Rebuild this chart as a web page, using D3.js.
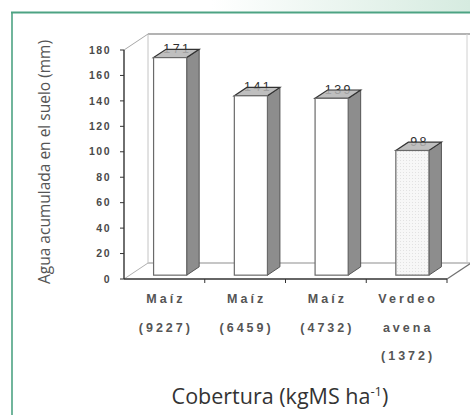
<!DOCTYPE html>
<html>
<head>
<meta charset="utf-8">
<script src="https://cdn.jsdelivr.net/npm/d3@7/dist/d3.min.js"></script>
<style>
  html, body { margin: 0; padding: 0; background: #fff; }
  svg { display: block; }
</style>
</head>
<body>
<svg id="chart" width="470" height="415"></svg>
<script>
// Soil water stored under each residue cover
const categories = ["c1", "c2", "c3", "c4"];
const labelLines = [
  ["Maíz", "(9227)"],
  ["Maíz", "(6459)"],
  ["Maíz", "(4732)"],
  ["Verdeo", "avena", "(1372)"]
];
const values = [171, 141, 139, 98];
const yTicks = [0, 20, 40, 60, 80, 100, 120, 140, 160, 180];

const svg = d3.select("#chart");

// page frame: faint green band on top, green rules
const defs = svg.append("defs");
const grad = defs.append("linearGradient").attr("id", "band")
  .attr("x1", "0%").attr("x2", "100%").attr("y1", "0%").attr("y2", "0%");
grad.append("stop").attr("offset", "45%").attr("stop-color", "#ffffff");
grad.append("stop").attr("offset", "100%").attr("stop-color", "#d6ebe0");
svg.append("rect").attr("x", 0).attr("y", 0).attr("width", 470).attr("height", 12)
  .attr("fill", "url(#band)");
svg.append("line").attr("x1", 11).attr("x2", 470).attr("y1", 12.5).attr("y2", 12.5)
  .attr("stroke", "#4da383").attr("stroke-width", 2);
svg.append("line").attr("x1", 12).attr("x2", 12).attr("y1", 12).attr("y2", 415)
  .attr("stroke", "#4da383").attr("stroke-width", 1.6);

// light texture for the last bar
const pat = defs.append("pattern").attr("id", "dots")
  .attr("width", 3).attr("height", 3).attr("patternUnits", "userSpaceOnUse");
pat.append("rect").attr("width", 3).attr("height", 3).attr("fill", "#f7f7f7");
pat.append("rect").attr("x", 1).attr("y", 1).attr("width", 1).attr("height", 1).attr("fill", "#e2e2e2");

// scales (front plane of the 3D box)
const x = d3.scaleBand().domain(categories).range([124, 447]).padding(0);
const y = d3.scaleLinear().domain([0, 180]).range([279, 50]);
const depth = { dx: 24, dy: -16 };     // full box depth
const f0 = 0.24, f1 = 0.76;            // bar depth span inside the box
const barFrac = 0.41;

const x0 = x.range()[0], x1 = x.range()[1];
const yTop = y(180), yBase = y(0);

const wall = svg.append("g");
// back wall
wall.append("line").attr("x1", x0 + depth.dx).attr("x2", 470)
  .attr("y1", yTop + depth.dy).attr("y2", yTop + depth.dy)
  .attr("stroke", "#9a9a9a").attr("stroke-width", 1.6);
wall.append("line").attr("x1", x1 + depth.dx - 4).attr("x2", x1 + depth.dx - 4)
  .attr("y1", yTop + depth.dy).attr("y2", yBase + depth.dy)
  .attr("stroke", "#d0d0d0").attr("stroke-width", 1);
wall.append("line").attr("x1", x0 + depth.dx).attr("x2", x0 + depth.dx)
  .attr("y1", yTop + depth.dy).attr("y2", yBase + depth.dy)
  .attr("stroke", "#c4c4c4").attr("stroke-width", 1);
// floor
wall.append("line").attr("x1", x0 + depth.dx).attr("x2", 470)
  .attr("y1", yBase + depth.dy).attr("y2", yBase + depth.dy)
  .attr("stroke", "#c6c6c6").attr("stroke-width", 2.2);
wall.append("line").attr("x1", x0).attr("x2", x0 + depth.dx)
  .attr("y1", yTop).attr("y2", yTop + depth.dy)
  .attr("stroke", "#a8a8a8").attr("stroke-width", 1);
wall.append("line").attr("x1", x0).attr("x2", x0 + depth.dx)
  .attr("y1", yBase).attr("y2", yBase + depth.dy)
  .attr("stroke", "#b0b0b0").attr("stroke-width", 1);
wall.append("line").attr("x1", x1).attr("x2", x1 + depth.dx)
  .attr("y1", yBase).attr("y2", yBase + depth.dy)
  .attr("stroke", "#707070").attr("stroke-width", 1.2);

// bars
const bars = svg.append("g").selectAll("g").data(values).join("g");
bars.each(function (v, i) {
  const g = d3.select(this);
  const w = x.bandwidth() * barFrac;
  const cx = x(categories[i]) + x.bandwidth() / 2;
  const ox = depth.dx * f0, oy = depth.dy * f0;
  const bx = depth.dx * (f1 - f0), by = depth.dy * (f1 - f0);
  const left = cx - w / 2 + ox, right = cx + w / 2 + ox;
  const top = y(v) + oy, bottom = y(0) + oy;
  // value label, partly covered by the bar top
  g.append("text")
    .attr("x", (left + right + bx) / 2 + 1).attr("y", top + by + 4)
    .attr("text-anchor", "middle")
    .attr("font-family", "Liberation Sans, Arial, sans-serif")
    .attr("font-size", 12.5).attr("letter-spacing", 2.5)
    .attr("fill", "#2e2e2e")
    .text(v);
  // side face
  g.append("path")
    .attr("d", `M${right},${top}L${right + bx},${top + by}L${right + bx},${bottom + by}L${right},${bottom}Z`)
    .attr("fill", "#8d8d8d").attr("stroke", "#555").attr("stroke-width", 1);
  // top face
  g.append("path")
    .attr("d", `M${left},${top}L${left + bx},${top + by}L${right + bx},${top + by}L${right},${top}Z`)
    .attr("fill", "#b4b4b4").attr("fill-opacity", 0.85).attr("stroke", "#333").attr("stroke-width", 1.2);
  // front face
  g.append("rect").attr("x", left).attr("y", top)
    .attr("width", w).attr("height", bottom - top)
    .attr("fill", i === 3 ? "url(#dots)" : "#ffffff")
    .attr("stroke", "#6a6a6a").attr("stroke-width", 1.2);
});

// y axis
const yAxis = svg.append("g");
yAxis.append("line").attr("x1", x0).attr("x2", x0).attr("y1", yTop).attr("y2", yBase)
  .attr("stroke", "#333").attr("stroke-width", 1.4);
yAxis.selectAll(".tk").data(yTicks).join("line")
  .attr("x1", x0 - 4).attr("x2", x0).attr("y1", d => y(d)).attr("y2", d => y(d))
  .attr("stroke", "#333").attr("stroke-width", 1);
yAxis.selectAll("text").data(yTicks).join("text")
  .attr("x", 111).attr("y", d => y(d)).attr("dy", "0.35em")
  .attr("text-anchor", "end")
  .attr("font-family", "Liberation Sans, Arial, sans-serif")
  .attr("font-size", 10.5).attr("font-weight", "bold").attr("letter-spacing", 1.5)
  .attr("fill", "#4a4a4a")
  .text(d => d);

// x axis
const xAxis = svg.append("g");
xAxis.append("line").attr("x1", x0).attr("x2", x1).attr("y1", yBase).attr("y2", yBase)
  .attr("stroke", "#333").attr("stroke-width", 1.6);
xAxis.selectAll(".tk").data(categories.slice(1).concat(["end"])).join("line")
  .attr("x1", (d, i) => x0 + x.bandwidth() * (i + 1))
  .attr("x2", (d, i) => x0 + x.bandwidth() * (i + 1))
  .attr("y1", yBase).attr("y2", yBase + 4)
  .attr("stroke", "#333").attr("stroke-width", 1);
categories.forEach((c, i) => {
  const t = xAxis.append("text")
    .attr("x", x(c) + x.bandwidth() / 2)
    .attr("text-anchor", "middle")
    .attr("font-family", "Liberation Sans, Arial, sans-serif")
    .attr("font-size", 12.5).attr("font-weight", "bold").attr("letter-spacing", 3)
    .attr("fill", "#555");
  labelLines[i].forEach((line, k) => {
    t.append("tspan").attr("x", x(c) + x.bandwidth() / 2 + 1.5)
      .attr("y", 303 + k * 28.5).text(line);
  });
});

// axis titles
svg.append("text")
  .attr("transform", "translate(45,162) rotate(-90)")
  .attr("text-anchor", "middle").attr("dy", "0.35em")
  .attr("font-family", "Open Sans, sans-serif").attr("font-size", 15.5)
  .attr("fill", "#555")
  .text("Agua acumulada en el suelo (mm)");

const xt = svg.append("text")
  .attr("x", 280).attr("y", 404)
  .attr("text-anchor", "middle")
  .attr("font-family", "Open Sans, sans-serif").attr("font-size", 21.5)
  .attr("fill", "#333");
xt.append("tspan").text("Cobertura (kgMS ha");
xt.append("tspan").attr("dy", -8).attr("font-size", 13).text("-1");
xt.append("tspan").attr("dy", 8).text(")");
</script>
</body>
</html>
